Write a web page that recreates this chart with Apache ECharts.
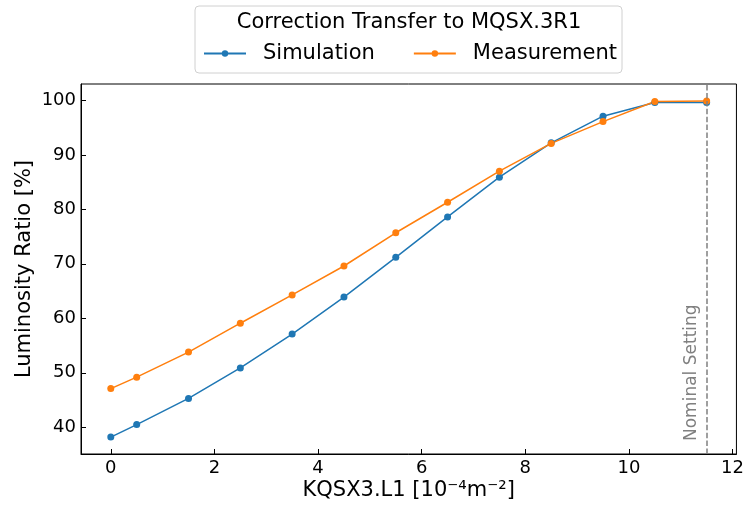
<!DOCTYPE html>
<html>
<head>
<meta charset="utf-8">
<script src="https://cdn.jsdelivr.net/npm/echarts@6/dist/echarts.min.js"></script>
<style>
  html, body { margin: 0; padding: 0; background: #fff; }
  #chart { width: 747px; height: 506px; }
</style>
</head>
<body>
<div id="chart"></div>
<script>
// KQSX3.L1 setting [1e-4 m^-2]
const kValues = [0, 0.5, 1.5, 2.5, 3.5, 4.5, 5.5, 6.5, 7.5, 8.5, 9.5, 10.5, 11.5];
// luminosity ratio [%]
const simulation = [38.2, 40.5, 45.3, 50.9, 57.1, 63.9, 71.2, 78.6, 85.9, 92.2, 97.1, 99.6, 99.6];
const measurement = [47.1, 49.2, 53.8, 59.1, 64.3, 69.6, 75.7, 81.3, 87.0, 92.1, 96.1, 99.8, 99.9];
const xTicks = [0, 2, 4, 6, 8, 10, 12];
const yTicks = [40, 50, 60, 70, 80, 90, 100];
const nominalSetting = 11.5;

const FONT = 'DejaVu Sans';
const pairs = ys => kValues.map((x, i) => [x, ys[i]]);

const chart = echarts.init(document.getElementById('chart'), null, { renderer: 'canvas' });

chart.setOption({
  animation: false,
  textStyle: { fontFamily: FONT },
  title: {
    text: 'Correction Transfer to MQSX.3R1',
    left: 409, top: 12, textAlign: 'center', padding: 0,
    textStyle: { fontFamily: FONT, fontSize: 21, fontWeight: 'normal', color: '#000' }
  },
  legend: {
    left: 195, top: 6,
    padding: [37, 5, 9, 8],
    itemWidth: 42, itemHeight: 8, itemGap: 38,
    borderColor: '#d0d0d0', borderWidth: 1, borderRadius: 4,
    textStyle: { fontFamily: FONT, fontSize: 21, color: '#000', padding: [0, 0, 0, 12] },
    data: ['Simulation', 'Measurement']
  },
  grid: { left: 81, right: 9, top: 84, bottom: 52, show: true, borderColor: '#000', borderWidth: 1 },
  xAxis: {
    type: 'value', min: -0.575, max: 12.075,
    name: 'KQSX3.L1 [10\u207B\u2074m\u207B\u00B2]', nameLocation: 'middle', nameGap: 26,
    nameMoveOverlap: false,
    nameTextStyle: { fontFamily: FONT, fontSize: 21, color: '#000' },
    axisLine: { onZero: false, lineStyle: { color: '#000', width: 1 } },
    axisTick: { inside: true, length: 5, customValues: xTicks, lineStyle: { color: '#000' } },
    axisLabel: { customValues: xTicks, margin: 5, fontSize: 18, color: '#000', fontFamily: FONT },
    splitLine: { show: false }
  },
  yAxis: {
    type: 'value', min: 35.1, max: 103.0,
    name: 'Luminosity Ratio [%]', nameLocation: 'middle', nameGap: 46, nameRotate: 90,
    nameMoveOverlap: false,
    nameTextStyle: { fontFamily: FONT, fontSize: 21, color: '#000' },
    axisLine: { show: true, onZero: false, lineStyle: { color: '#000', width: 1 } },
    axisTick: { show: true, inside: true, length: 5, customValues: yTicks, lineStyle: { color: '#000' } },
    axisLabel: { customValues: yTicks, margin: 5, fontSize: 18, color: '#000', fontFamily: FONT },
    splitLine: { show: false }
  },
  series: [
    {
      name: 'Simulation', type: 'line', data: pairs(simulation),
      symbol: 'circle', symbolSize: 7, color: '#1f77b4',
      lineStyle: { width: 1.5 },
      markLine: {
        silent: true, symbol: ['none', 'none'],
        lineStyle: { color: '#808080', type: [5.5, 2.4], width: 1.5 },
        label: {
          show: true, formatter: 'Nominal Setting', position: 'insideStartTop',
          color: '#808080', fontSize: 17, fontFamily: FONT, distance: 7,
          padding: [0, 0, 0, 6]
        },
        data: [{ xAxis: nominalSetting }]
      }
    },
    {
      name: 'Measurement', type: 'line', data: pairs(measurement),
      symbol: 'circle', symbolSize: 7, color: '#ff7f0e',
      lineStyle: { width: 1.5 }
    }
  ]
});
</script>
</body>
</html>
